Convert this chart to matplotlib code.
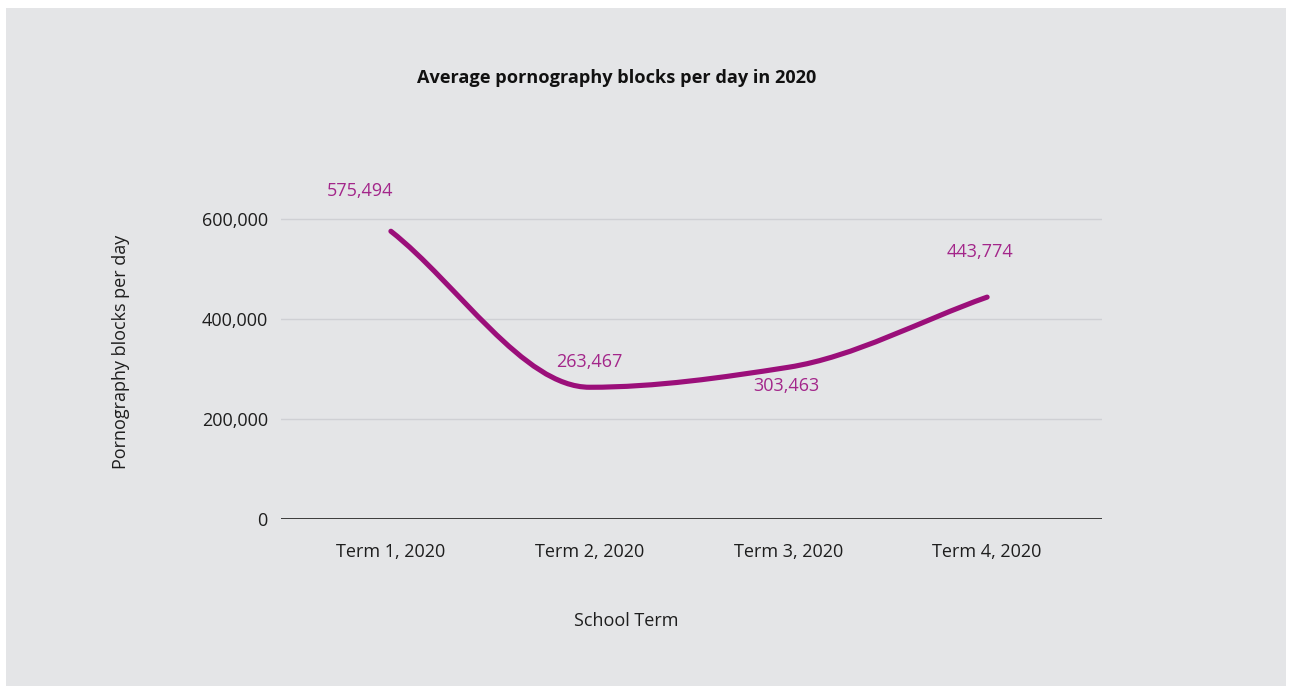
import matplotlib.pyplot as plt
from matplotlib.patches import Rectangle, PathPatch
from matplotlib.path import Path

terms = ['Term 1, 2020', 'Term 2, 2020', 'Term 3, 2020', 'Term 4, 2020']
blocks = [575494, 263467, 303463, 443774]
# label offsets in pixels (dx, dy) from each point
label_offsets = [(-31, 40), (0, 25), (-2, -19), (-7, 45)]
y_ticks = [0, 200000, 400000, 600000]

plt.rcParams['font.family'] = ['Open Sans', 'DejaVu Sans']

line_col = '#9b0f7a'
text_col = '#a3268a'
bg_col = '#e4e5e7'
ink = '#1e1e1e'
fs = 13

fig = plt.figure(figsize=(12.92, 6.86), dpi=100)
fig.patch.set_facecolor('white')
fig.patches.append(Rectangle((6 / 1292, 0), 1280 / 1292, 678 / 686,
                             transform=fig.transFigure, facecolor=bg_col,
                             edgecolor='none', zorder=-5))

ax = fig.add_axes([281 / 1292, 167 / 686, 821 / 1292, 350 / 686])
ax.set_facecolor('none')

xs = list(range(len(blocks)))


def monotone_path(x, y):
    # monotone cubic (Fritsch-Carlson) through the points, as Bezier segments
    n = len(x)
    d = [(y[i + 1] - y[i]) / (x[i + 1] - x[i]) for i in range(n - 1)]
    m = [d[0]] + [0.0] * (n - 2) + [d[-1]]
    for i in range(1, n - 1):
        if d[i - 1] * d[i] > 0:
            m[i] = 2 / (1 / d[i - 1] + 1 / d[i])
    verts = [(x[0], y[0])]
    codes = [Path.MOVETO]
    for i in range(n - 1):
        h = x[i + 1] - x[i]
        verts += [(x[i] + h / 3, y[i] + m[i] * h / 3),
                  (x[i + 1] - h / 3, y[i + 1] - m[i + 1] * h / 3),
                  (x[i + 1], y[i + 1])]
        codes += [Path.CURVE4] * 3
    return Path(verts, codes)


ax.add_patch(PathPatch(monotone_path(xs, blocks), facecolor='none',
                       edgecolor=line_col, lw=3.7, capstyle='round', zorder=3))

for x, v, (dx, dy) in zip(xs, blocks, label_offsets):
    ax.annotate(f'{v:,}', (x, v), xytext=(dx, dy), textcoords='offset pixels',
                ha='center', va='center', fontsize=fs, color=text_col)

ax.set_xlim(-0.553, 3.578)
ax.set_ylim(0, 700000)
ax.set_xticks(xs)
ax.set_xticklabels(terms)
ax.set_yticks(y_ticks)
ax.set_yticklabels([f'{v:,}' for v in y_ticks])
ax.tick_params(length=0, labelsize=fs, colors=ink)
ax.tick_params(axis='y', pad=9.5)
ax.tick_params(axis='x', pad=17)

for v in y_ticks[1:]:
    ax.axhline(v, color='#cfd0d4', lw=1, zorder=1)
ax.axhline(0, color=ink, lw=1.2, zorder=2)
for s in ax.spines.values():
    s.set_visible(False)

ax.set_ylabel('Pornography blocks per day', fontsize=fs, color=ink)
ax.yaxis.set_label_coords(-0.184, 0.477)
ax.set_xlabel('School Term', fontsize=fs, color=ink)
ax.xaxis.set_label_coords(0.421, -0.266)

fig.text(617 / 1292, 1 - 78 / 686, 'Average pornography blocks per day in 2020',
         ha='center', va='center', fontsize=13.1, fontweight='bold', color='#111111')

fig.savefig('out.png', dpi=100)
